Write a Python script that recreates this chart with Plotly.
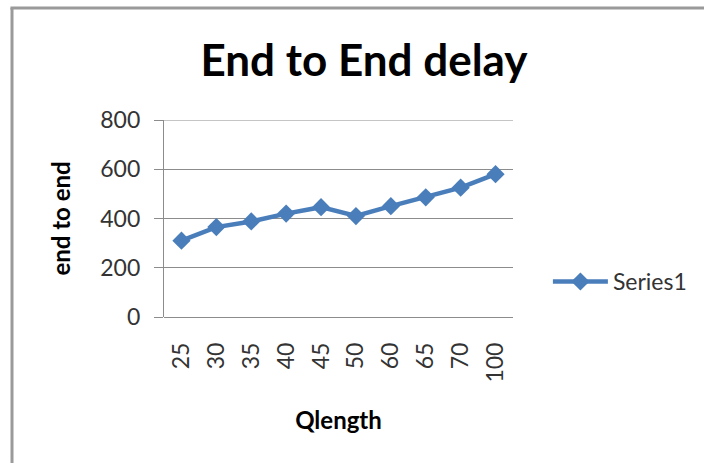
import plotly.graph_objects as go

# Queue length categories and measured end-to-end delay
qlength = ["25", "30", "35", "40", "45", "50", "60", "65", "70", "100"]
delay = [310, 365, 388, 420, 446, 410, 450, 486, 525, 580]
y_ticks = [0, 200, 400, 600, 800]

FONT = "Lato, Calibri, sans-serif"
BLUE = "#4a7ebb"
GRID = "#8c8c8c"

fig = go.Figure()
fig.add_trace(go.Scatter(
    x=qlength,
    y=delay,
    mode="lines+markers",
    name="Series1",
    line=dict(color=BLUE, width=4.5),
    marker=dict(symbol="diamond", size=14, color=BLUE),
))

# Chart frame: left and top edges only
frame = dict(type="line", xref="paper", yref="paper",
             line=dict(color="#9a9a9a", width=3))
fig.add_shape(**frame, x0=-0.4355, x1=-0.4355, y0=1.5685, y1=-0.75)
fig.add_shape(**frame, x0=-0.44, x1=1.6, y0=1.5685, y1=1.5685)

# Top gridline sits on the plot edge, so draw it explicitly
fig.add_shape(type="line", xref="paper", yref="y", x0=0, x1=1,
              y0=y_ticks[-1], y1=y_ticks[-1], layer="below",
              line=dict(color=GRID, width=1.2))

fig.update_layout(
    width=704,
    height=463,
    margin=dict(l=164, r=191, t=120, b=146),
    paper_bgcolor="white",
    plot_bgcolor="white",
    font=dict(family=FONT, color="#333333"),
    title=dict(
        text="<b>End to End delay</b>",
        font=dict(family=FONT, size=44, color="black"),
        xref="container", x=0.517, xanchor="center",
        yref="container", y=1 - 61 / 463, yanchor="middle",
    ),
    showlegend=True,
    legend=dict(
        x=1.10, xanchor="left",
        y=0.18, yanchor="middle",
        font=dict(family=FONT, size=23, color="#333333"),
        itemwidth=55,
        bgcolor="rgba(0,0,0,0)",
    ),
    xaxis=dict(
        type="category",
        range=[-0.5, 9.5],
        tickangle=-90,
        tickfont=dict(family=FONT, size=23, color="#333333"),
        showgrid=False,
        showline=False,
        ticks="",
        ticklabelstandoff=20,
        title=dict(text="<b>Qlength</b>", font=dict(family=FONT, size=24, color="black"),
                   standoff=30),
    ),
    yaxis=dict(
        range=[0, 800],
        tickvals=y_ticks,
        tickfont=dict(family=FONT, size=23, color="#333333"),
        showgrid=True,
        gridcolor=GRID,
        gridwidth=1.2,
        zeroline=True,
        zerolinecolor=GRID,
        zerolinewidth=1.2,
        showline=True,
        linecolor=GRID,
        linewidth=1.2,
        ticks="outside",
        ticklen=9,
        tickcolor=GRID,
        ticklabelstandoff=9,
        title=dict(text="<b>end to end</b>", font=dict(family=FONT, size=24, color="black"),
                   standoff=22),
    ),
)

fig.write_html("out.html")
